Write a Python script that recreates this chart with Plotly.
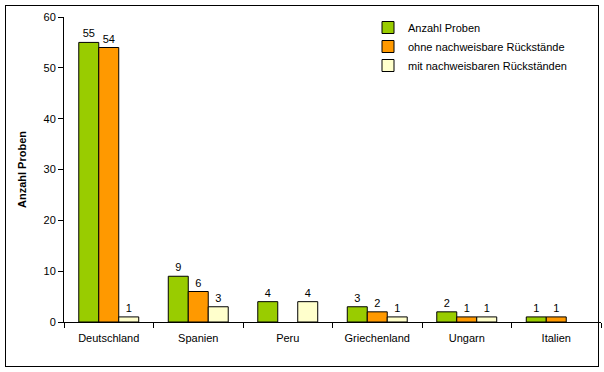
import plotly.graph_objects as go

categories = ["Deutschland", "Spanien", "Peru", "Griechenland", "Ungarn", "Italien"]
anzahl_proben = [55, 9, 4, 3, 2, 1]
ohne_rueckstaende = [54, 6, 0, 2, 1, 1]
mit_rueckstaenden = [1, 3, 4, 1, 1, 0]
series_names = ["Anzahl Proben", "ohne nachweisbare Rückstände", "mit nachweisbaren Rückständen"]
y_ticks = [0, 10, 20, 30, 40, 50, 60]

colors = ["#99CC00", "#FF9900", "#FFFFCC"]
font = dict(family="Arial, Liberation Sans, sans-serif", size=11, color="black")

fig = go.Figure()
for name, vals, col in zip(series_names, [anzahl_proben, ohne_rueckstaende, mit_rueckstaenden], colors):
    fig.add_trace(go.Bar(
        x=categories, y=vals, name=name,
        marker=dict(color=col, line=dict(color="black", width=[1 if v else 0 for v in vals])),
        text=[str(v) if v else "" for v in vals],
        textposition="outside", textfont=font, cliponaxis=False,
    ))

W, H = 604, 372
L, R, T, B = 64, 3, 17, 50
pw, ph = W - L - R, H - T - B

def px_x(p):
    return (p - L) / pw

def px_y(p):
    return (H - B - p) / ph

border = dict(color="black", width=1)
bx0, bx1, by0, by1 = px_x(5.5), px_x(598.5), px_y(366.5), px_y(5.5)

fig.update_layout(
    width=W, height=H,
    margin=dict(l=L, r=R, t=T, b=B, autoexpand=False),
    paper_bgcolor="white", plot_bgcolor="white",
    font=font,
    barmode="group", bargap=0.33, bargroupgap=0,
    showlegend=True,
    legend=dict(x=px_x(368), y=px_y(13), xanchor="left", yanchor="top",
                font=font, bgcolor="rgba(0,0,0,0)", tracegroupgap=0,
                itemwidth=30),
    xaxis=dict(showline=True, linecolor="black", linewidth=1, ticks="outside",
               tickson="boundaries", ticklen=5, tickcolor="black",
               ticklabelstandoff=6,
               showgrid=False, tickfont=font, fixedrange=True),
    yaxis=dict(range=[0, 60], tickvals=y_ticks, showline=True, linecolor="black",
               linewidth=1, ticks="outside", ticklen=5, tickcolor="black",
               showgrid=False, zeroline=False, tickfont=font, fixedrange=True,
               title=dict(text="<b>Anzahl Proben</b>", font=font, standoff=14)),
    shapes=[
        dict(type="line", xref="paper", yref="paper", x0=bx0, x1=bx1, y0=by1, y1=by1, line=border),
        dict(type="line", xref="paper", yref="paper", x0=bx0, x1=bx1, y0=by0, y1=by0, line=border),
        dict(type="line", xref="paper", yref="paper", x0=bx0, x1=bx0, y0=by0, y1=by1, line=border),
        dict(type="line", xref="paper", yref="paper", x0=bx1, x1=bx1, y0=by0, y1=by1, line=border),
    ],
)

post = (
    "document.body.style.margin='0';document.body.style.overflow='hidden';"
    "var d=document.createElement('div');"
    "d.style.cssText='position:fixed;left:5px;top:5px;width:592px;height:360px;"
    "border:1px solid black;pointer-events:none;z-index:10;';"
    "document.body.appendChild(d);"
)
fig.write_html("out.html", config={"displayModeBar": False}, post_script=post)
